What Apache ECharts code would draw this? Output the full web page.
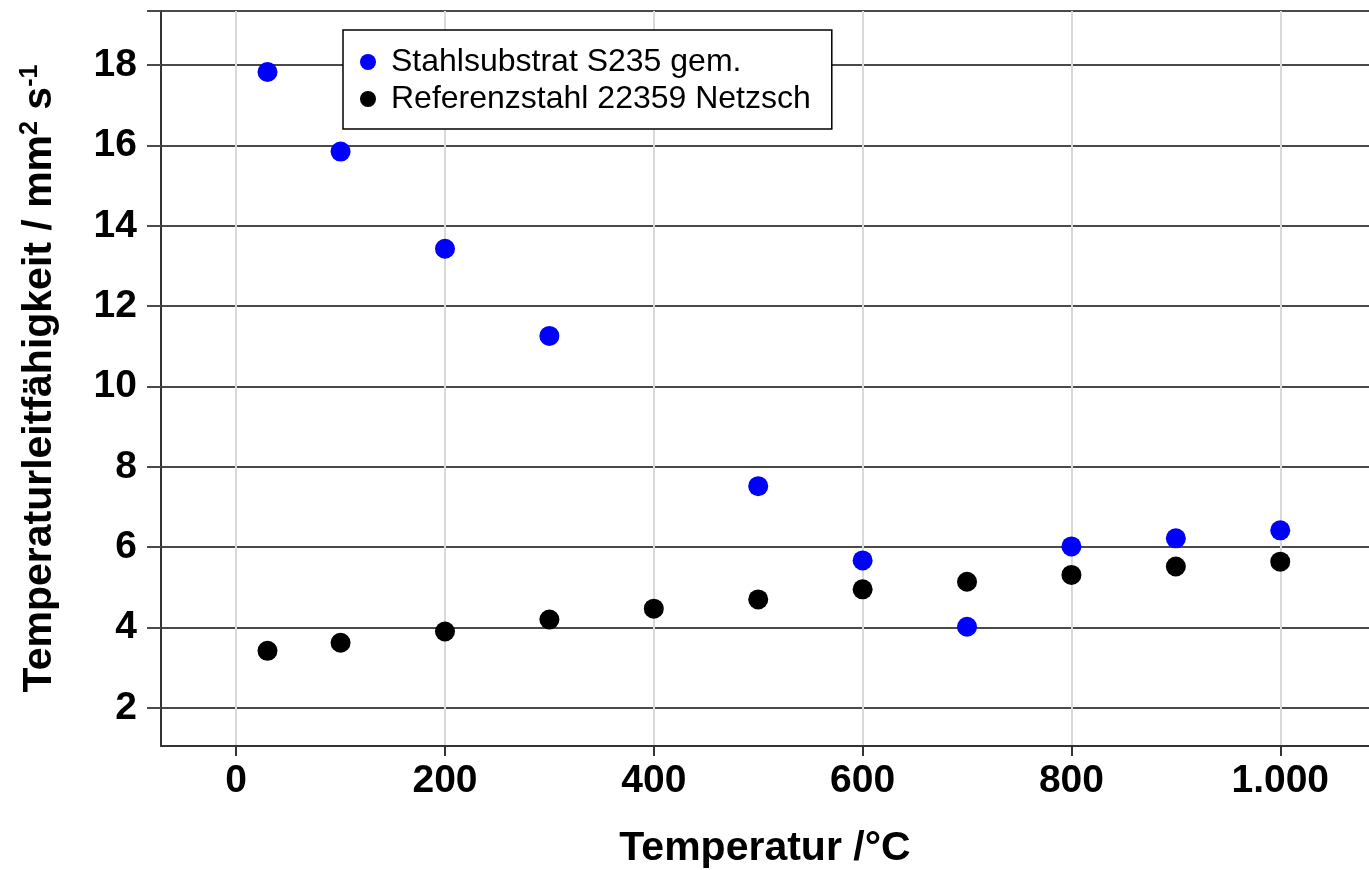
<!DOCTYPE html>
<html>
<head>
<meta charset="utf-8">
<script src="https://cdn.jsdelivr.net/npm/echarts@6/dist/echarts.min.js"></script>
<style>
html,body{margin:0;padding:0;background:#fff;}
#chart{width:1369px;height:870px;}
</style>
</head>
<body>
<div id="chart"></div>
<script>
// ---- data ----
const temperatures = [30, 100, 200, 300, 400, 500, 600, 700, 800, 900, 1000];
const substratTemps = [30, 100, 200, 300, 500, 600, 700, 800, 900, 1000];
const substratValues = [17.83, 15.85, 13.43, 11.26, 7.52, 5.67, 4.02, 6.02, 6.22, 6.42];
const referenzValues = [3.42, 3.62, 3.90, 4.20, 4.47, 4.70, 4.95, 5.14, 5.31, 5.52, 5.64];
const yTicks = [2, 4, 6, 8, 10, 12, 14, 16, 18];
const xTicks = [0, 200, 400, 600, 800, 1000];
const seriesNames = ['Stahlsubstrat S235 gem.', 'Referenzstahl 22359 Netzsch'];

const FONT = '"Liberation Sans", Arial, sans-serif';
const yMin = 1.05, yMax = 19.35, xMin = -72, xMax = 1085;

const chart = echarts.init(document.getElementById('chart'), null, {renderer: 'canvas'});
chart.setOption({
  backgroundColor: '#ffffff',
  animation: false,
  grid: {left: 161, right: 0, top: 11, bottom: 124, containLabel: false, outerBoundsMode: 'none'},
  legend: {
    orient: 'vertical',
    left: 343, top: 30,
    data: seriesNames.map(n => ({name: n, icon: 'circle'})),
    itemWidth: 36, itemHeight: 16, itemGap: 5,
    padding: [16, 21, 14, 17],
    borderColor: '#000', borderWidth: 1.5, borderRadius: 0,
    backgroundColor: '#fff',
    textStyle: {fontFamily: FONT, fontSize: 32, color: '#000'}
  },
  xAxis: {
    type: 'value', min: xMin, max: xMax,
    name: 'Temperatur /°C', nameLocation: 'middle', nameGap: 82,
    nameTextStyle: {fontFamily: FONT, fontSize: 41, fontWeight: 'bold', color: '#000'},
    axisLine: {show: true, onZero: false, lineStyle: {color: '#333', width: 2}},
    axisTick: {show: true, customValues: xTicks, length: 10, lineStyle: {color: '#333', width: 2}},
    axisLabel: {customValues: xTicks, margin: 16, fontFamily: FONT, fontSize: 39, fontWeight: 'bold', color: '#000',
      formatter: v => v >= 1000 ? (Math.floor(v/1000) + '.' + String(v % 1000).padStart(3, '0')) : String(v)},
    splitLine: {show: true, lineStyle: {color: '#d9d9d9', width: 2}}
  },
  yAxis: {
    type: 'value', min: yMin, max: yMax,
    name: '{a|Temperaturleitfähigkeit / mm}{s|2}{a| s}{s|-1}',
    nameLocation: 'middle', nameGap: 99, nameRotate: 90,
    nameTextStyle: {
      fontFamily: FONT, fontSize: 41, fontWeight: 'bold', color: '#000',
      rich: {
        a: {fontFamily: FONT, fontSize: 41, fontWeight: 'bold', color: '#000', lineHeight: 44},
        s: {fontFamily: FONT, fontSize: 25, fontWeight: 'bold', color: '#000', verticalAlign: 'top', lineHeight: 44}
      }
    },
    axisLine: {show: true, onZero: false, lineStyle: {color: '#333', width: 2}},
    axisTick: {show: true, customValues: yTicks.concat([yMax]), length: 14, lineStyle: {color: '#4a4a4a', width: 2}},
    axisLabel: {customValues: yTicks, margin: 24, fontFamily: FONT, fontSize: 39, fontWeight: 'bold', color: '#000'},
    splitLine: {show: true, lineStyle: {color: '#4a4a4a', width: 2}}
  },
  series: [
    {
      name: seriesNames[0], type: 'scatter', symbol: 'circle', symbolSize: 20,
      itemStyle: {color: '#0000ff', opacity: 1},
      data: substratTemps.map((t, i) => [t, substratValues[i]]),
      z: 3
    },
    {
      name: seriesNames[1], type: 'scatter', symbol: 'circle', symbolSize: 20,
      itemStyle: {color: '#000000', opacity: 1},
      data: temperatures.map((t, i) => [t, referenzValues[i]]),
      z: 3
    }
  ]
});
</script>
</body>
</html>
